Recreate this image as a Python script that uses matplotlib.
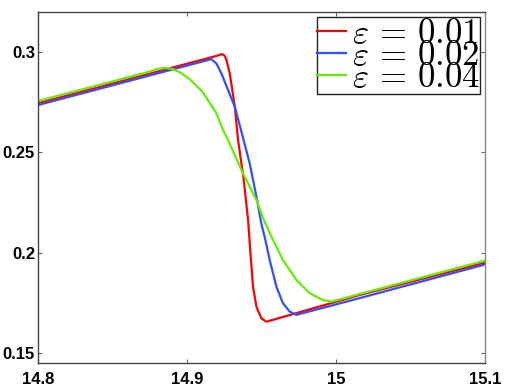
import numpy as np
import matplotlib
matplotlib.use("Agg")
import matplotlib.pyplot as plt

# values
x_red = [14.8, 14.9199, 14.9236, 14.9254, 14.9266, 14.9288, 14.9322, 14.9344, 14.9382,
         14.9411, 14.9427, 14.9444, 14.9467, 14.9500, 14.9534, 15.0159, 15.1]
y_red = [0.2744, 0.2980, 0.2989, 0.2981, 0.2959, 0.2893, 0.2727, 0.2561, 0.2362,
         0.2163, 0.1998, 0.1831, 0.1732, 0.1674, 0.1657, 0.1790, 0.1951]

x_blue = [14.8, 14.9165, 14.9199, 14.9232, 14.9277, 14.9322, 14.9358, 14.9422, 14.9467,
          14.9502, 14.9522, 14.9556, 14.9601, 14.9645, 14.9690, 14.9735, 15.0157, 15.1]
y_blue = [0.2735, 0.2964, 0.2942, 0.2893, 0.2810, 0.2727, 0.2626, 0.2445, 0.2279,
          0.2138, 0.2080, 0.1964, 0.1831, 0.1749, 0.1707, 0.1691, 0.1774, 0.1942]

x_green = [14.8, 14.8752, 14.8806, 14.8853, 14.8900, 14.8953, 14.9020, 14.9107, 14.9199,
           14.9243, 14.9277, 14.9377, 14.9467, 14.9512, 14.9578, 14.9645, 14.9735,
           14.9824, 14.9913, 14.9969, 15.1]
y_green = [0.2755, 0.2902, 0.2916, 0.2920, 0.2916, 0.2899, 0.2864, 0.2800, 0.2694,
           0.2611, 0.2561, 0.2395, 0.2263, 0.2172, 0.2064, 0.1964, 0.1865,
           0.1799, 0.1765, 0.1757, 0.1961]

labels = [r'$\varepsilon\,=\,0.01$', r'$\varepsilon\,=\,0.02$', r'$\varepsilon\,=\,0.04$']
xticks = [14.8, 14.9, 15.0, 15.1]
xticklabels = ['14.8', '14.9', '15', '15.1']
yticks = [0.15, 0.2, 0.25, 0.3]
yticklabels = ['0.15', '0.2', '0.25', '0.3']

plt.rcParams['mathtext.fontset'] = 'cm'
plt.rcParams['font.family'] = ['Liberation Sans', 'DejaVu Sans']

fig = plt.figure(figsize=(5.06, 3.84), dpi=100)
ax = fig.add_axes([0.0745, 0.0555, 0.884, 0.914])

ax.plot(x_red, y_red, color='#ff0000', lw=1.6, label=labels[0])
ax.plot(x_blue, y_blue, color='#3050ff', lw=1.6, label=labels[1])
ax.plot(x_green, y_green, color='#66ee00', lw=1.6, label=labels[2])

ax.set_xlim(14.8, 15.1)
ax.set_ylim(0.1453, 0.32)
ax.set_xticks(xticks)
ax.set_xticklabels(xticklabels, fontsize=12, fontweight='bold')
ax.set_yticks(yticks)
ax.set_yticklabels(yticklabels, fontsize=12, fontweight='bold')
ax.tick_params(direction='in', length=3, width=0.8, color='#666666',
               top=True, right=True)
ax.tick_params(axis='x', pad=7)
ax.tick_params(axis='y', pad=2)
for s in ax.spines.values():
    s.set_color('#444444')
    s.set_linewidth(1.0)
ax.spines['right'].set_color('#888888')

leg = ax.legend(loc='upper right', fontsize=25, labelspacing=-0.32, handlelength=0.85,
                handletextpad=0.15, borderpad=0.0, borderaxespad=0.15,
                fancybox=False, framealpha=1)
leg.get_frame().set_edgecolor('#222222')
leg.get_frame().set_linewidth(1.0)

plt.savefig('out.png', dpi=100)
